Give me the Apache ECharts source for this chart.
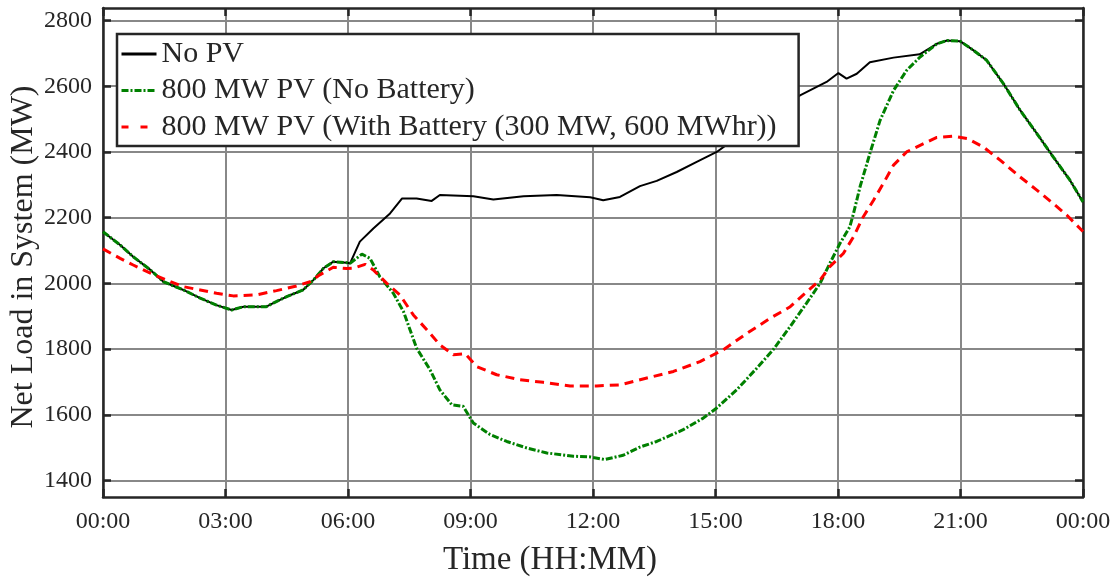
<!DOCTYPE html>
<html>
<head>
<meta charset="utf-8">
<script src="https://cdn.jsdelivr.net/npm/echarts@6/dist/echarts.min.js"></script>
<style>
  html, body { margin: 0; padding: 0; background: #fff; }
  #chart { width: 1114px; height: 577px; }
</style>
</head>
<body>
<div id="chart"></div>
<script>
// Net system load over one day (hours 0-24, MW)
const noPvHours = [0, 0.42, 0.74, 1.16, 1.48, 1.97, 2.38, 2.78, 3.15, 3.44, 4.0, 4.17, 4.5, 4.9, 5.15, 5.4, 5.64, 5.97, 6.05, 6.29, 6.62, 7.03, 7.32, 7.68, 8.05, 8.25, 9.07, 9.56, 10.3, 11.11, 11.93, 12.25, 12.66, 13.15, 13.56, 14.05, 14.54, 15.03, 15.36, 16.2, 17.07, 17.72, 18.01, 18.21, 18.46, 18.78, 19.36, 20.0, 20.42, 20.67, 20.99, 21.32, 21.64, 22.05, 22.46, 22.87, 23.27, 23.68, 24.0];
const noPvLoad = [2157, 2117, 2081, 2041, 2005, 1980, 1955, 1934, 1919, 1929, 1929, 1940, 1960, 1980, 2010, 2046, 2066, 2063, 2061, 2127, 2167, 2213, 2258, 2258, 2251, 2269, 2265, 2255, 2265, 2269, 2262, 2253, 2263, 2296, 2312, 2339, 2370, 2400, 2430, 2500, 2572, 2613, 2640, 2623, 2638, 2673, 2687, 2697, 2729, 2739, 2737, 2709, 2679, 2608, 2527, 2456, 2385, 2314, 2248];

const pvHours = [0, 0.42, 0.74, 1.16, 1.48, 1.97, 2.38, 2.78, 3.15, 3.44, 4.0, 4.17, 4.5, 4.9, 5.15, 5.4, 5.64, 5.97, 6.05, 6.34, 6.54, 6.78, 7.11, 7.36, 7.68, 8.01, 8.25, 8.54, 8.82, 9.07, 9.48, 9.89, 10.38, 10.87, 11.52, 11.93, 12.29, 12.74, 13.15, 13.56, 14.21, 14.7, 15.03, 15.52, 16.01, 16.41, 16.83, 17.23, 17.56, 17.8, 18.05, 18.29, 18.38, 18.54, 18.78, 19.03, 19.36, 19.68, 20.01, 20.42, 20.67, 20.99, 21.32, 21.64, 22.05, 22.46, 22.87, 23.27, 23.68, 24.0];
const pvLoad = [2157, 2117, 2081, 2041, 2005, 1980, 1955, 1934, 1919, 1929, 1929, 1940, 1960, 1980, 2010, 2046, 2066, 2063, 2061, 2089, 2076, 2020, 1970, 1914, 1803, 1737, 1676, 1631, 1626, 1575, 1540, 1519, 1499, 1484, 1474, 1472, 1464, 1477, 1502, 1519, 1555, 1590, 1621, 1676, 1742, 1798, 1869, 1940, 2000, 2061, 2122, 2172, 2213, 2294, 2395, 2496, 2587, 2648, 2689, 2729, 2739, 2737, 2709, 2679, 2608, 2527, 2456, 2385, 2314, 2248];

const batteryHours = [0, 0.42, 0.74, 1.16, 1.56, 1.97, 2.38, 2.78, 3.19, 3.76, 4.25, 4.74, 5.07, 5.31, 5.64, 5.97, 6.13, 6.42, 6.62, 6.95, 7.27, 7.6, 7.93, 8.25, 8.58, 8.87, 9.15, 9.64, 10.21, 10.78, 11.44, 12.09, 12.66, 13.32, 13.97, 14.62, 15.19, 15.77, 16.34, 16.83, 17.15, 17.56, 17.8, 18.13, 18.38, 18.62, 18.87, 19.11, 19.36, 19.68, 20.01, 20.42, 20.83, 21.16, 21.56, 21.97, 22.46, 22.87, 23.27, 23.6, 24.0];
const batteryLoad = [2105, 2076, 2056, 2031, 2010, 1990, 1980, 1970, 1962, 1965, 1978, 1992, 2005, 2026, 2049, 2045, 2046, 2058, 2041, 2000, 1965, 1904, 1859, 1813, 1783, 1786, 1747, 1722, 1707, 1699, 1688, 1688, 1691, 1712, 1732, 1762, 1798, 1848, 1894, 1929, 1965, 2010, 2051, 2091, 2142, 2203, 2253, 2304, 2360, 2400, 2420, 2444, 2448, 2441, 2415, 2375, 2324, 2284, 2243, 2208, 2158];

const seriesNames = ['No PV', '800 MW PV (No Battery)', '800 MW PV (With Battery (300 MW, 600 MWhr))'];
const timeTicks = ['00:00', '03:00', '06:00', '09:00', '12:00', '15:00', '18:00', '21:00', '00:00'];
const loadTicks = [1400, 1600, 1800, 2000, 2200, 2400, 2600, 2800];

const pair = (hs, vs) => hs.map((h, i) => [h, vs[i]]);

const FONT = 'Liberation Serif';
const INK = '#262626';
const GRID = '#888888';

const chart = echarts.init(document.getElementById('chart'), null, { renderer: 'canvas' });

const frameLine = { show: true, onZero: false, lineStyle: { color: INK, width: 2.5 } };
const innerTick = { show: true, inside: true, length: 8, lineStyle: { color: INK, width: 2.5 } };

chart.setOption({
  animation: false,
  backgroundColor: '#fff',
  grid: { left: 103, right: 31, top: 8, bottom: 80, containLabel: false },
  legend: {
    orient: 'vertical',
    left: 117,
    top: 34,
    padding: [5, 22, 4, 3],
    itemWidth: 35,
    itemHeight: 14,
    itemGap: 6.5,
    backgroundColor: '#fff',
    borderColor: INK,
    borderWidth: 2.5,
    z: 10,
    itemStyle: { opacity: 0 },
    lineStyle: { width: 3 },
    textStyle: { fontFamily: FONT, fontSize: 30, lineHeight: 28, color: INK },
    data: [
      { name: seriesNames[0] },
      { name: seriesNames[1] },
      { name: seriesNames[2], lineStyle: { type: [7, 12] } }
    ]
  },
  xAxis: [
    {
      type: 'value', min: 0, max: 24, interval: 3,
      axisLine: frameLine, axisTick: innerTick,
      axisLabel: {
        color: INK, fontFamily: FONT, fontSize: 24, margin: 13,
        formatter: v => timeTicks[Math.round(v / 3)]
      },
      splitLine: { show: true, lineStyle: { color: GRID, width: 2 } }
    },
    {
      type: 'value', position: 'top', min: 0, max: 24, interval: 3,
      axisLine: frameLine, axisTick: innerTick,
      axisLabel: { show: false }, splitLine: { show: false }
    }
  ],
  yAxis: [
    {
      type: 'value', min: 1350, max: 2838,
      axisLine: frameLine,
      axisTick: Object.assign({ customValues: loadTicks }, innerTick),
      axisLabel: {
        customValues: loadTicks,
        color: INK, fontFamily: FONT, fontSize: 24, margin: 11,
        formatter: v => String(v)
      },
      splitLine: { show: true, lineStyle: { color: GRID, width: 2 } }
    },
    {
      type: 'value', position: 'right', min: 1350, max: 2838,
      axisLine: frameLine,
      axisTick: Object.assign({ customValues: loadTicks }, innerTick),
      axisLabel: { show: false, customValues: loadTicks },
      splitLine: { show: false }
    }
  ],
  graphic: [
    {
      type: 'text', x: 550, y: 560, z: 5,
      style: {
        text: 'Time (HH:MM)', fontFamily: FONT, fontSize: 33, fill: INK,
        align: 'center', verticalAlign: 'middle'
      }
    },
    {
      type: 'text', x: 24, y: 257, rotation: Math.PI / 2, z: 5,
      style: {
        text: 'Net Load in System (MW)', fontFamily: FONT, fontSize: 32, fill: INK,
        align: 'center', verticalAlign: 'middle'
      }
    }
  ],
  series: [
    {
      name: seriesNames[0], type: 'line', symbol: 'none', z: 2,
      data: pair(noPvHours, noPvLoad),
      lineStyle: { color: '#000000', width: 2, type: 'solid' },
      itemStyle: { color: '#000000' }
    },
    {
      name: seriesNames[1], type: 'line', symbol: 'none', z: 3,
      data: pair(pvHours, pvLoad),
      lineStyle: { color: '#008000', width: 3, type: [7, 2, 2, 2] },
      itemStyle: { color: '#008000' }
    },
    {
      name: seriesNames[2], type: 'line', symbol: 'none', z: 4,
      data: pair(batteryHours, batteryLoad),
      lineStyle: { color: '#ff0000', width: 3, type: [9, 6] },
      itemStyle: { color: '#ff0000' }
    }
  ]
});
</script>
</body>
</html>
